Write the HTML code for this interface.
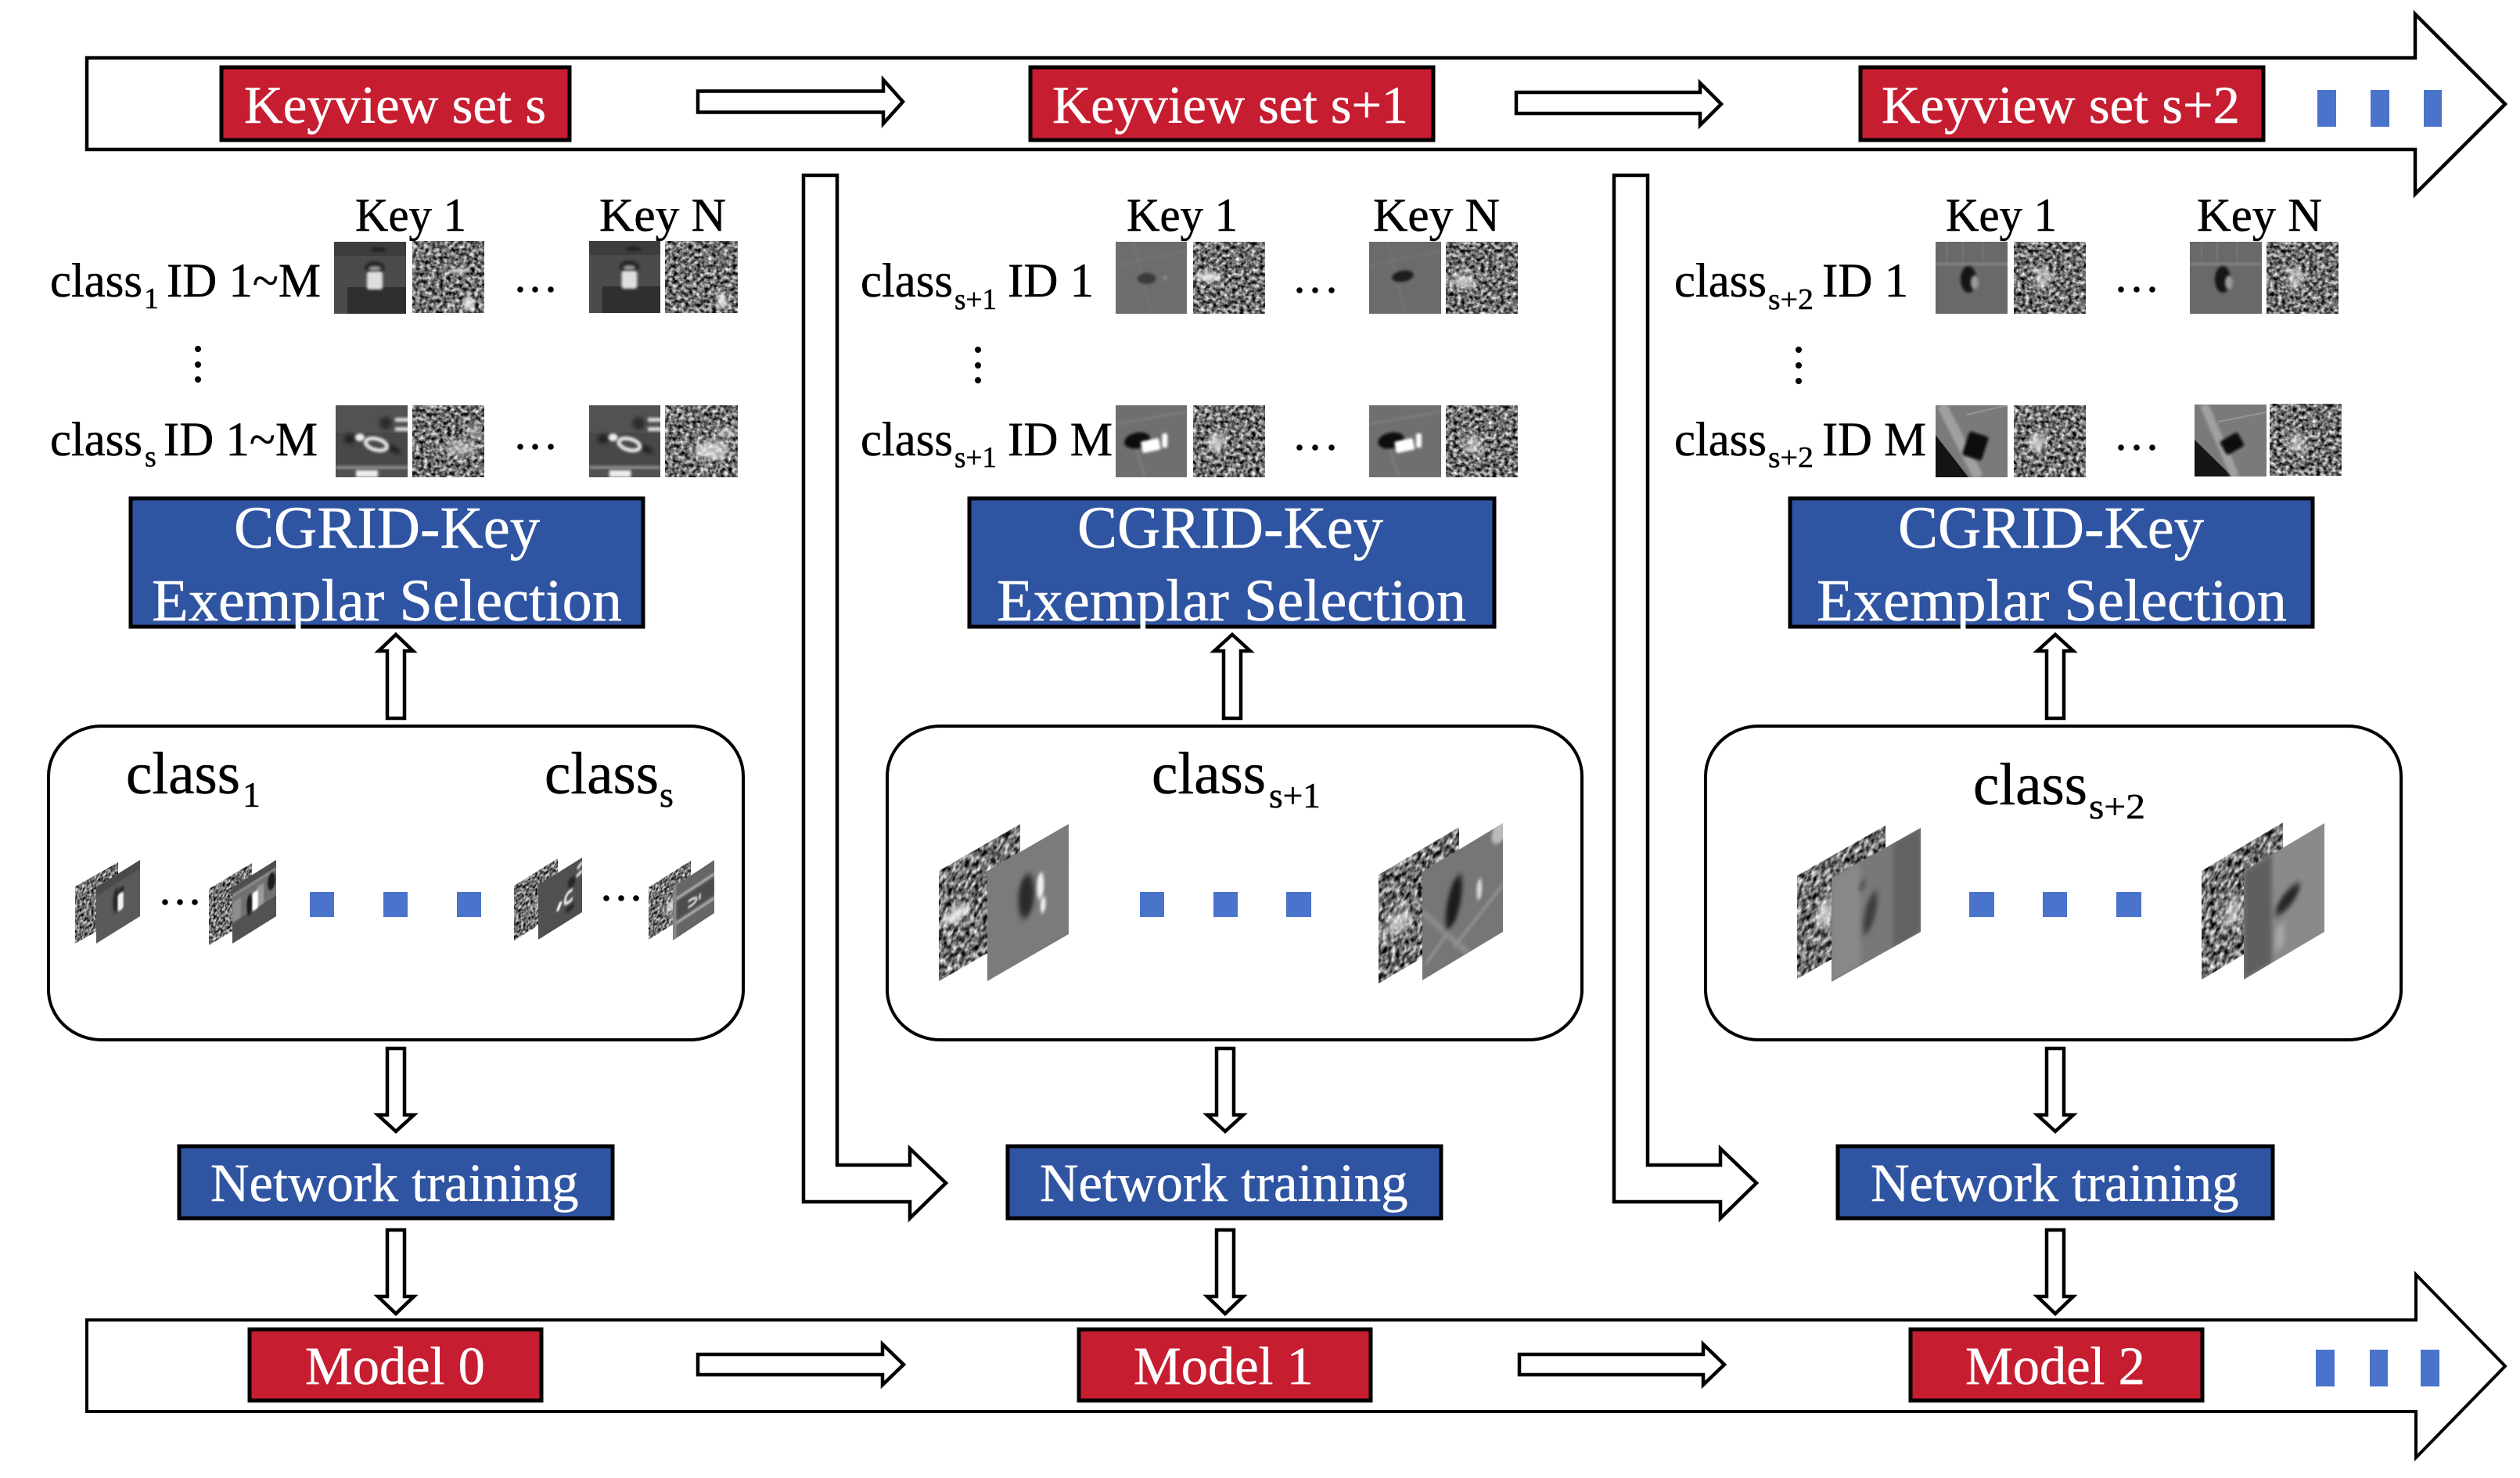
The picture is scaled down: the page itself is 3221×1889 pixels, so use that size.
<!DOCTYPE html>
<html><head><meta charset="utf-8"><style>
html,body{margin:0;padding:0;background:#fff}
svg{display:block}
text{font-family:"Liberation Serif",serif;stroke:#000;stroke-width:.5}
.w,.w text{fill:#fff;stroke:#fff}
.a{fill:#fff;stroke:#000;stroke-width:4.5;stroke-miterlimit:10}
.r{fill:#c61d30;stroke:#000;stroke-width:5}
.b{fill:#2f54a1;stroke:#000;stroke-width:5}
.s{fill:#4a73cc}
.rr{fill:#fff;stroke:#000;stroke-width:4}
</style></head><body>
<svg xmlns="http://www.w3.org/2000/svg" width="3221" height="1889" viewBox="0 0 3221 1889">
<defs>
<filter id="fa" x="0" y="0" width="1" height="1" color-interpolation-filters="sRGB"><feTurbulence type="fractalNoise" baseFrequency=".2" numOctaves="2" seed="3"/><feColorMatrix values="1.6 0 0 0 -.36 1.6 0 0 0 -.36 1.6 0 0 0 -.36 0 0 0 0 1"/></filter>
<filter id="fb" x="0" y="0" width="1" height="1" color-interpolation-filters="sRGB"><feTurbulence type="fractalNoise" baseFrequency=".2" numOctaves="2" seed="11"/><feColorMatrix values="1.6 0 0 0 -.36 1.6 0 0 0 -.36 1.6 0 0 0 -.36 0 0 0 0 1"/></filter>
<filter id="fc" x="0" y="0" width="1" height="1" color-interpolation-filters="sRGB"><feTurbulence type="fractalNoise" baseFrequency=".2" numOctaves="2" seed="27"/><feColorMatrix values="1.6 0 0 0 -.36 1.6 0 0 0 -.36 1.6 0 0 0 -.36 0 0 0 0 1"/></filter>
<filter id="b1" x="-50%" y="-50%" width="200%" height="200%"><feGaussianBlur stdDeviation="1.6"/></filter>
<filter id="b2" x="-50%" y="-50%" width="200%" height="200%"><feGaussianBlur stdDeviation="2.6"/></filter>
<filter id="b4" x="-50%" y="-50%" width="200%" height="200%"><feGaussianBlur stdDeviation="4"/></filter>
<clipPath id="c"><rect width="92" height="92"/></clipPath>

<rect id="na" width="92" height="92" filter="url(#fa)"/>
<rect id="nb" width="92" height="92" filter="url(#fb)"/>
<rect id="nc" width="92" height="92" filter="url(#fc)"/>

<g id="n1" clip-path="url(#c)"><use href="#na"/><ellipse cx="58" cy="38" rx="12" ry="3" fill="#ccc" filter="url(#b1)"/><ellipse cx="72" cy="80" rx="7" ry="9" fill="#eee" opacity=".9" filter="url(#b2)"/></g>
<g id="n2" clip-path="url(#c)"><use href="#nb"/><ellipse cx="72" cy="76" rx="6" ry="11" fill="#eee" opacity=".9" filter="url(#b2)"/></g>
<g id="n3" clip-path="url(#c)"><use href="#nc"/><ellipse cx="62" cy="55" rx="20" ry="9" fill="#ddd" opacity=".65" filter="url(#b4)"/><ellipse cx="80" cy="34" rx="7" ry="9" fill="#ccc" opacity=".6" filter="url(#b2)"/></g>
<g id="n4" clip-path="url(#c)"><use href="#na"/><ellipse cx="58" cy="58" rx="22" ry="12" fill="#eee" opacity=".75" filter="url(#b4)"/><ellipse cx="78" cy="35" rx="10" ry="8" fill="#ddd" opacity=".6" filter="url(#b2)"/></g>
<g id="n5" clip-path="url(#c)"><use href="#nb"/><ellipse cx="20" cy="45" rx="16" ry="6" fill="#eee" opacity=".9" filter="url(#b2)"/></g>
<g id="n6" clip-path="url(#c)"><use href="#nc"/><ellipse cx="22" cy="50" rx="15" ry="9" fill="#eee" opacity=".7" filter="url(#b4)"/></g>
<g id="n7" clip-path="url(#c)"><use href="#na"/><ellipse cx="30" cy="48" rx="10" ry="13" fill="#eee" opacity=".7" filter="url(#b4)"/></g>
<g id="n8" clip-path="url(#c)"><use href="#nb"/><ellipse cx="35" cy="50" rx="12" ry="13" fill="#eee" opacity=".55" filter="url(#b4)"/></g>
<g id="n9" clip-path="url(#c)"><use href="#nc"/><ellipse cx="37" cy="45" rx="10" ry="14" fill="#eee" opacity=".6" filter="url(#b4)"/></g>

<g id="t1" clip-path="url(#c)"><rect width="92" height="92" fill="#4b4b4b"/><rect width="92" height="18" fill="#3d3d3d"/><rect x="17" y="58" width="75" height="34" fill="#2f2f2f"/><ellipse cx="57" cy="10" rx="10" ry="3" fill="#222" filter="url(#b1)"/><ellipse cx="52" cy="33" rx="13" ry="8" fill="#252525" filter="url(#b1)"/><ellipse cx="52" cy="34" rx="8" ry="3" fill="#999" filter="url(#b1)"/><rect x="42" y="38" width="20" height="23" rx="3" fill="#dedede" filter="url(#b1)"/></g>
<g id="t2" clip-path="url(#c)"><rect width="92" height="92" fill="#525252"/><rect y="35" width="92" height="40" fill="#484848"/><ellipse cx="18" cy="43" rx="7" ry="6" fill="#222" filter="url(#b2)"/><ellipse cx="64" cy="23" rx="8" ry="8" fill="#2a2a2a" filter="url(#b2)"/><ellipse cx="74" cy="56" rx="10" ry="4" fill="#222" transform="rotate(30 74 56)" filter="url(#b2)"/><ellipse cx="31" cy="41" rx="6" ry="5" fill="#eee" filter="url(#b1)"/><ellipse cx="52" cy="50" rx="14" ry="7" fill="none" stroke="#e8e8e8" stroke-width="5" transform="rotate(15 52 50)" filter="url(#b1)"/><rect x="76" y="16" width="18" height="5" fill="#ddd" filter="url(#b1)"/><rect x="76" y="28" width="18" height="5" fill="#ddd" filter="url(#b1)"/><rect y="78" width="92" height="3" fill="#999" filter="url(#b1)"/><rect x="26" y="83" width="28" height="9" fill="#eee" filter="url(#b1)"/></g>
<g id="t3" clip-path="url(#c)"><rect width="92" height="92" fill="#6d6d6d"/><path d="M24 0L46 92M0 30L92 12" stroke="#777" stroke-width="2" filter="url(#b1)"/><ellipse cx="40" cy="47" rx="12" ry="7" fill="#3a3a3a" filter="url(#b1)"/><circle cx="64" cy="46" r="3" fill="#8a8a8a" filter="url(#b1)"/></g>
<g id="t3n" clip-path="url(#c)"><rect width="92" height="92" fill="#6b6b6b"/><path d="M24 0L46 92M0 30L92 12" stroke="#767676" stroke-width="2" filter="url(#b1)"/><ellipse cx="43" cy="44" rx="14" ry="7" fill="#1e1e1e" transform="rotate(-10 43 44)" filter="url(#b1)"/></g>
<g id="t4" clip-path="url(#c)"><rect width="92" height="92" fill="#6f6f6f"/><path d="M24 50L38 92M0 24L92 8" stroke="#828282" stroke-width="2" filter="url(#b1)"/><ellipse cx="28" cy="45" rx="17" ry="10" fill="#0c0c0c" transform="rotate(-12 28 45)" filter="url(#b1)"/><rect x="33" y="44" width="24" height="15" rx="2" fill="#fff" transform="rotate(-12 45 50)" filter="url(#b1)"/><rect x="60" y="36" width="7" height="18" rx="2" fill="#fff" filter="url(#b1)"/></g>
<g id="t5" clip-path="url(#c)"><rect width="92" height="92" fill="#696969"/><rect y="27" width="92" height="3" fill="#888" filter="url(#b1)"/><path d="M35 0V27M60 0V27M15 0V27" stroke="#757575" stroke-width="2"/><ellipse cx="42" cy="48" rx="10" ry="17" fill="#161616" filter="url(#b1)"/><ellipse cx="50" cy="52" rx="5" ry="9" fill="#999" filter="url(#b1)"/></g>
<g id="t6" clip-path="url(#c)"><rect width="92" height="92" fill="#7a7a7a"/><path d="M0 38L42 92H0Z" fill="#141414"/><path d="M8 0L55 92" stroke="#a0a0a0" stroke-width="13" fill="none" filter="url(#b1)"/><path d="M40 12L92 0" stroke="#959595" stroke-width="2"/><rect x="38" y="36" width="26" height="32" rx="3" fill="#0d0d0d" transform="rotate(18 51 52)" filter="url(#b1)"/></g>
<g id="t6n" clip-path="url(#c)"><rect width="92" height="92" fill="#7a7a7a"/><path d="M0 45L48 92H0Z" fill="#151515"/><path d="M12 0L52 92" stroke="#a0a0a0" stroke-width="11" fill="none" filter="url(#b1)"/><path d="M30 22L92 10" stroke="#969696" stroke-width="2"/><rect x="35" y="40" width="26" height="20" rx="3" fill="#101010" transform="rotate(-30 48 50)" filter="url(#b1)"/></g>

<g id="p1" clip-path="url(#c)"><rect width="92" height="92" fill="#5a5a5a"/><rect width="92" height="14" fill="#484848" filter="url(#b1)"/><ellipse cx="42" cy="42" rx="7" ry="20" fill="#252525" filter="url(#b2)"/><ellipse cx="52" cy="30" rx="7" ry="5" fill="#2a2a2a" filter="url(#b1)"/><rect x="45" y="34" width="12" height="28" rx="4" fill="#f2f2f2" filter="url(#b1)"/></g>
<g id="p2" clip-path="url(#c)"><rect width="92" height="92" fill="#707070"/><rect y="58" width="92" height="34" fill="#525252"/><rect width="92" height="15" fill="#4e4e4e"/><rect y="12" width="92" height="4" fill="#999" filter="url(#b1)"/><rect x="0" y="25" width="18" height="33" fill="#8e8e8e" filter="url(#b1)"/><rect x="52" y="25" width="14" height="33" fill="#9a9a9a" filter="url(#b1)"/><ellipse cx="36" cy="46" rx="6" ry="17" fill="#1e1e1e" filter="url(#b1)"/><rect x="42" y="30" width="12" height="30" rx="3" fill="#fff" filter="url(#b1)"/><ellipse cx="82" cy="30" rx="8" ry="14" fill="#1f1f1f" filter="url(#b1)"/></g>
<g id="p3" clip-path="url(#c)"><rect width="92" height="92" fill="#505050"/><ellipse cx="70" cy="30" rx="8" ry="9" fill="#252525" filter="url(#b2)"/><ellipse cx="66" cy="72" rx="10" ry="6" fill="#2a2a2a" filter="url(#b2)"/><path d="M40 64L48 52" stroke="#fff" stroke-width="6" fill="none" filter="url(#b1)"/><path d="M72 44Q56 42 56 58Q62 64 72 58" stroke="#eee" stroke-width="5" fill="none" filter="url(#b1)"/><path d="M82 14L92 8M80 26L92 22" stroke="#ddd" stroke-width="6" filter="url(#b1)"/></g>
<g id="p4" clip-path="url(#c)"><rect width="92" height="92" fill="#666"/><rect y="30" width="92" height="30" fill="#4d4d4d" filter="url(#b1)"/><path d="M0 24H92M0 66H92" stroke="#aaa" stroke-width="5" filter="url(#b1)"/><path d="M34 42Q56 42 52 50Q44 54 34 52M60 42V52" stroke="#e6e6e6" stroke-width="4" fill="none" filter="url(#b1)"/><rect y="0" width="8" height="92" fill="#8a8a8a" filter="url(#b1)"/></g>
<g id="p5" clip-path="url(#c)"><rect width="92" height="92" fill="#7b7b7b"/><ellipse cx="44" cy="40" rx="9" ry="18" fill="#2a2a2a" filter="url(#b2)"/><ellipse cx="60" cy="38" rx="4" ry="11" fill="#f2f2f2" filter="url(#b1)"/><ellipse cx="63" cy="55" rx="3" ry="7" fill="#f2f2f2" filter="url(#b1)"/></g>
<g id="p6" clip-path="url(#c)"><rect width="92" height="92" fill="#767676"/><path d="M0 34L52 92M92 52L36 80M4 80L36 60" stroke="#8f8f8f" stroke-width="4" fill="none" filter="url(#b1)"/><ellipse cx="36" cy="42" rx="8" ry="21" fill="#1a1a1a" transform="rotate(15 36 42)" filter="url(#b2)"/><ellipse cx="65" cy="44" rx="3" ry="9" fill="#ddd" filter="url(#b1)"/><circle cx="88" cy="6" r="9" fill="#bbb" filter="url(#b1)"/></g>
<g id="p7" clip-path="url(#c)"><rect width="92" height="92" fill="#787878"/><rect width="30" height="92" fill="#888" filter="url(#b2)"/><rect x="64" width="28" height="92" fill="#626262" filter="url(#b2)"/><ellipse cx="40" cy="50" rx="6" ry="17" fill="#3c3c3c" transform="rotate(15 40 50)" filter="url(#b2)"/><ellipse cx="32" cy="22" rx="4" ry="5" fill="#616161" filter="url(#b1)"/></g>
<g id="p8" clip-path="url(#c)"><rect width="92" height="92" fill="#8a8a8a"/><rect width="32" height="92" fill="#5e5e5e" filter="url(#b2)"/><ellipse cx="50" cy="46" rx="15" ry="7" fill="#252525" transform="rotate(-25 50 46)" filter="url(#b2)"/><rect x="36" y="64" width="10" height="20" rx="3" fill="#a8a8a8" filter="url(#b2)"/></g>
</defs>

<rect width="3221" height="1889" fill="#fff"/>

<!-- top band -->
<polygon class="a" points="111,74 3087,74 3087,18 3202,133 3087,248 3087,191 111,191"/>
<rect class="r" x="283" y="86" width="445" height="93"/>
<rect class="r" x="1317" y="86" width="515" height="93"/>
<rect class="r" x="2378" y="86" width="515" height="93"/>
<text class="w" x="312" y="157" font-size="68" textLength="386" lengthAdjust="spacingAndGlyphs">Keyview set s</text>
<text class="w" x="1345" y="157" font-size="68" textLength="455" lengthAdjust="spacingAndGlyphs">Keyview set s+1</text>
<text class="w" x="2405" y="157" font-size="68" textLength="458" lengthAdjust="spacingAndGlyphs">Keyview set s+2</text>
<polygon class="a" points="892,116.5 1129,116.5 1129,102 1154,130 1129,158 1129,143.5 892,143.5"/>
<polygon class="a" points="1938,118 2173,118 2173,106 2200,133 2173,160 2173,145 1938,145"/>
<rect class="s" x="2962" y="115" width="24" height="47"/><rect class="s" x="3030" y="115" width="24" height="47"/><rect class="s" x="3098" y="115" width="23" height="47"/>

<!-- bent arrows -->
<polygon class="a" points="1027,224 1070,224 1070,1489 1163,1489 1163,1468 1209,1512 1163,1557 1163,1536 1027,1536"/>
<polygon class="a" points="2063,224 2106,224 2106,1489 2199,1489 2199,1468 2245,1512 2199,1557 2199,1536 2063,1536"/>

<!-- column 1 top labels -->
<text x="454" y="295" font-size="60" textLength="142" lengthAdjust="spacingAndGlyphs">Key 1</text><text x="766" y="295" font-size="60" textLength="162" lengthAdjust="spacingAndGlyphs">Key N</text>
<text x="64" y="379" font-size="61" textLength="118" lengthAdjust="spacingAndGlyphs">class</text><text x="184" y="394" font-size="38">1</text><text x="213" y="379" font-size="61" textLength="197" lengthAdjust="spacingAndGlyphs">ID 1~M</text>
<text x="64" y="582" font-size="61" textLength="118" lengthAdjust="spacingAndGlyphs">class</text><text x="185" y="596" font-size="38">s</text><text x="209" y="582" font-size="61" textLength="197" lengthAdjust="spacingAndGlyphs">ID 1~M</text>
<use href="#t1" transform="translate(427,309)"/><use href="#n1" transform="translate(527,308)"/>
<use href="#t1" transform="matrix(.989 0 0 1 753 308)"/><use href="#n2" transform="matrix(1.011 0 0 1 850 308)"/>
<use href="#t2" transform="translate(429,518)"/><use href="#n3" transform="translate(527,518)"/>
<use href="#t2" transform="matrix(.989 0 0 1 753 518)"/><use href="#n4" transform="matrix(1.011 0 0 1 850 518)"/>
<g fill="#000"><circle cx="665" cy="370" r="3.8"/><circle cx="684" cy="370" r="3.8"/><circle cx="704" cy="370" r="3.8"/><circle cx="665" cy="571" r="3.8"/><circle cx="684" cy="571" r="3.8"/><circle cx="704" cy="571" r="3.8"/><circle cx="253" cy="446" r="4"/><circle cx="253" cy="466" r="4"/><circle cx="253" cy="485" r="4"/></g>

<!-- column 2 top labels -->
<text x="1440" y="295" font-size="60" textLength="142" lengthAdjust="spacingAndGlyphs">Key 1</text><text x="1755" y="295" font-size="60" textLength="162" lengthAdjust="spacingAndGlyphs">Key N</text>
<text x="1100" y="379" font-size="61" textLength="118" lengthAdjust="spacingAndGlyphs">class</text><text x="1220" y="395" font-size="38" textLength="54" lengthAdjust="spacingAndGlyphs">s+1</text><text x="1288" y="379" font-size="61">ID 1</text>
<text x="1100" y="582" font-size="61" textLength="118" lengthAdjust="spacingAndGlyphs">class</text><text x="1220" y="597" font-size="38" textLength="54" lengthAdjust="spacingAndGlyphs">s+1</text><text x="1288" y="582" font-size="61" textLength="134" lengthAdjust="spacingAndGlyphs">ID M</text>
<use href="#t3" transform="matrix(.989 0 0 1 1426 309)"/><use href="#n5" transform="translate(1525,309)"/>
<use href="#t3n" transform="translate(1750,309)"/><use href="#n6" transform="translate(1848,309)"/>
<use href="#t4" transform="matrix(.989 0 0 1 1426 518)"/><use href="#n7" transform="translate(1525,518)"/>
<use href="#t4" transform="translate(1750,518)"/><use href="#n8" transform="translate(1848,518)"/>
<g fill="#000"><circle cx="1661" cy="371" r="3.8"/><circle cx="1681" cy="371" r="3.8"/><circle cx="1702" cy="371" r="3.8"/><circle cx="1661" cy="572" r="3.8"/><circle cx="1681" cy="572" r="3.8"/><circle cx="1702" cy="572" r="3.8"/><circle cx="1250" cy="447" r="4"/><circle cx="1250" cy="467" r="4"/><circle cx="1250" cy="486" r="4"/></g>

<!-- column 3 top labels -->
<text x="2487" y="295" font-size="60" textLength="142" lengthAdjust="spacingAndGlyphs">Key 1</text><text x="2808" y="295" font-size="60" textLength="160" lengthAdjust="spacingAndGlyphs">Key N</text>
<text x="2140" y="379" font-size="61" textLength="118" lengthAdjust="spacingAndGlyphs">class</text><text x="2260" y="395" font-size="38" textLength="58" lengthAdjust="spacingAndGlyphs">s+2</text><text x="2329" y="379" font-size="61">ID 1</text>
<text x="2140" y="582" font-size="61" textLength="118" lengthAdjust="spacingAndGlyphs">class</text><text x="2260" y="597" font-size="38" textLength="58" lengthAdjust="spacingAndGlyphs">s+2</text><text x="2329" y="582" font-size="61" textLength="133" lengthAdjust="spacingAndGlyphs">ID M</text>
<use href="#t5" transform="translate(2474,309)"/><use href="#n9" transform="translate(2574,309)"/>
<use href="#t5" transform="translate(2799,309)"/><use href="#n9" transform="translate(2897,309)"/>
<use href="#t6" transform="translate(2474,518)"/><use href="#n7" transform="translate(2574,518)"/>
<use href="#t6n" transform="translate(2805,517)"/><use href="#n8" transform="translate(2901,516)"/>
<g fill="#000"><circle cx="2711" cy="370" r="3.8"/><circle cx="2731" cy="370" r="3.8"/><circle cx="2751" cy="370" r="3.8"/><circle cx="2711" cy="572" r="3.8"/><circle cx="2731" cy="572" r="3.8"/><circle cx="2751" cy="572" r="3.8"/><circle cx="2299" cy="447" r="4"/><circle cx="2299" cy="467" r="4"/><circle cx="2299" cy="487" r="4"/></g>

<!-- CGRID boxes -->
<rect class="b" x="167" y="637" width="655" height="164"/>
<rect class="b" x="1239" y="637" width="671" height="164"/>
<rect class="b" x="2288" y="637" width="668" height="164"/>
<g class="w" font-size="76.5">
<text x="299" y="700">CGRID-Key</text><text x="194" y="793" textLength="601" lengthAdjust="spacingAndGlyphs">Exemplar Selection</text>
<text x="1377" y="700">CGRID-Key</text><text x="1274" y="793" textLength="600" lengthAdjust="spacingAndGlyphs">Exemplar Selection</text>
<text x="2426" y="700">CGRID-Key</text><text x="2322" y="793" textLength="601" lengthAdjust="spacingAndGlyphs">Exemplar Selection</text>
</g>

<!-- up arrows -->
<polygon class="a" points="495,918 495,832 484,832 506,811 528,832 517,832 517,918"/>
<polygon class="a" points="1564,918 1564,832 1552,832 1575,811 1598,832 1586,832 1586,918"/>
<polygon class="a" points="2616,918 2616,832 2604,832 2627,811 2650,832 2638,832 2638,918"/>

<!-- rounded boxes -->
<rect class="rr" x="62" y="928" width="888" height="401" rx="68" ry="64"/>
<rect class="rr" x="1134" y="928" width="888" height="401" rx="68" ry="64"/>
<rect class="rr" x="2180" y="928" width="889" height="401" rx="68" ry="64"/>

<text x="161" y="1014" font-size="76" textLength="146" lengthAdjust="spacingAndGlyphs">class</text><text x="310" y="1031" font-size="46">1</text>
<text x="696" y="1014" font-size="76" textLength="146" lengthAdjust="spacingAndGlyphs">class</text><text x="843" y="1031" font-size="46">s</text>
<text x="1472" y="1014" font-size="76" textLength="146" lengthAdjust="spacingAndGlyphs">class</text><text x="1622" y="1032" font-size="46" textLength="66" lengthAdjust="spacingAndGlyphs">s+1</text>
<text x="2522" y="1028" font-size="76" textLength="146" lengthAdjust="spacingAndGlyphs">class</text><text x="2670" y="1046" font-size="46" textLength="72" lengthAdjust="spacingAndGlyphs">s+2</text>

<!-- perspective image pairs -->
<use href="#n1" transform="matrix(.598 -.337 0 .793 96 1133)"/><use href="#p1" transform="matrix(.609 -.38 0 .783 123 1134)"/>
<use href="#n2" transform="matrix(.598 -.359 0 .783 267 1136)"/><use href="#p2" transform="matrix(.609 -.38 0 .783 297 1134)"/>
<use href="#n3" transform="matrix(.609 -.38 0 .761 657 1132)"/><use href="#p3" transform="matrix(.609 -.38 0 .761 688 1131)"/>
<use href="#n4" transform="matrix(.587 -.37 0 .728 829 1134)"/><use href="#p4" transform="matrix(.576 -.38 0 .739 860 1134)"/>
<use href="#n5" transform="matrix(1.13 -.652 0 1.533 1200 1113)"/><use href="#p5" transform="matrix(1.13 -.652 0 1.533 1262 1113)"/>
<use href="#n6" transform="matrix(1.12 -.663 0 1.511 1762 1118)"/><use href="#p6" transform="matrix(1.12 -.674 0 1.511 1818 1114)"/>
<use href="#n7" transform="matrix(1.228 -.696 0 1.435 2297 1119)"/><use href="#p7" transform="matrix(1.239 -.696 0 1.446 2341 1122)"/>
<use href="#n8" transform="matrix(1.13 -.674 0 1.511 2814 1113)"/><use href="#p8" transform="matrix(1.12 -.663 0 1.511 2868 1113)"/>

<g fill="#000"><circle cx="211" cy="1153" r="3.8"/><circle cx="230" cy="1153" r="3.8"/><circle cx="249" cy="1153" r="3.8"/><circle cx="775" cy="1148" r="3.8"/><circle cx="794" cy="1148" r="3.8"/><circle cx="813" cy="1148" r="3.8"/></g>
<g class="s">
<rect x="396" y="1140" width="31" height="32"/><rect x="490" y="1140" width="31" height="32"/><rect x="584" y="1140" width="31" height="32"/>
<rect x="1457" y="1140" width="31" height="32"/><rect x="1551" y="1140" width="31" height="32"/><rect x="1644" y="1140" width="32" height="32"/>
<rect x="2517" y="1140" width="32" height="32"/><rect x="2611" y="1140" width="31" height="32"/><rect x="2705" y="1140" width="32" height="32"/>
</g>

<!-- down arrows: box → network -->
<polygon class="a" points="495,1340 517,1340 517,1425 529,1425 506,1446 483,1425 495,1425"/>
<polygon class="a" points="1555,1340 1577,1340 1577,1425 1589,1425 1566,1446 1543,1425 1555,1425"/>
<polygon class="a" points="2616,1340 2638,1340 2638,1425 2650,1425 2627,1446 2604,1425 2616,1425"/>

<!-- network boxes -->
<rect class="b" x="229" y="1465" width="554" height="92"/>
<rect class="b" x="1288" y="1465" width="554" height="92"/>
<rect class="b" x="2349" y="1465" width="556" height="92"/>
<g class="w" font-size="68.6">
<text x="269" y="1535">Network training</text><text x="1329" y="1535">Network training</text><text x="2391" y="1535">Network training</text>
</g>

<!-- down arrows: network → model -->
<polygon class="a" points="495,1572 517,1572 517,1657 529,1657 506,1679 483,1657 495,1657"/>
<polygon class="a" points="1555,1572 1577,1572 1577,1657 1589,1657 1566,1679 1543,1657 1555,1657"/>
<polygon class="a" points="2616,1572 2638,1572 2638,1657 2650,1657 2627,1679 2604,1657 2616,1657"/>

<!-- bottom band -->
<polygon class="a" points="111,1687 3088,1687 3088,1629 3202,1746 3088,1863 3088,1804 111,1804" style="stroke-width:4"/>
<rect class="r" x="319" y="1699" width="373" height="91"/>
<rect class="r" x="1379" y="1699" width="373" height="91"/>
<rect class="r" x="2442" y="1699" width="373" height="91"/>
<g class="w" font-size="68.4">
<text x="390" y="1769">Model 0</text><text x="1449" y="1769">Model 1</text><text x="2512" y="1769">Model 2</text>
</g>
<polygon class="a" points="892,1731 1128,1731 1128,1718 1155,1744 1128,1770 1128,1757 892,1757"/>
<polygon class="a" points="1942,1731 2177,1731 2177,1718 2204,1744 2177,1770 2177,1757 1942,1757"/>
<rect class="s" x="2960" y="1725" width="24" height="47"/><rect class="s" x="3029" y="1725" width="23" height="47"/><rect class="s" x="3094" y="1725" width="24" height="47"/>
</svg>
</body></html>
